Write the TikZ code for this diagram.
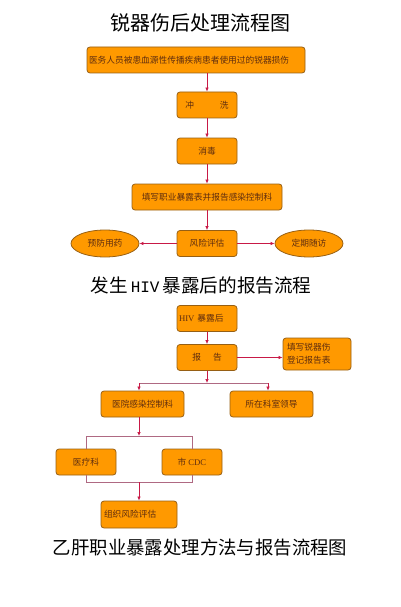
\documentclass[tikz,border=0pt]{standalone}
\usepackage{fontspec}
\setmainfont{Noto Sans CJK SC}
\newfontfamily\latinserif{Liberation Serif}
\newfontfamily\latinmono{Liberation Mono}
\usetikzlibrary{arrows.meta, shapes.geometric}
\definecolor{boxfill}{RGB}{255, 153, 0}
\definecolor{boxline}{RGB}{150, 95, 20}
\definecolor{boxtext}{RGB}{95, 45, 15}
\definecolor{arrowred}{RGB}{200, 25, 70}
\definecolor{branch}{RGB}{175, 105, 130}

\begin{document}
\begin{tikzpicture}[x=1pt, y=-1pt,
    box/.style={draw=boxline, fill=boxfill, rounded corners=3pt, line width=0.8pt,
      text=boxtext, font=\fontsize{8.7}{13}\selectfont, inner sep=2pt, minimum height=26pt},
    oval/.style={ellipse, draw=boxline, fill=boxfill, line width=0.8pt, text=boxtext,
      font=\fontsize{8.7}{13}\selectfont, inner sep=0pt, minimum width=68pt, minimum height=27pt},
    flow/.style={-{Latex[length=4pt,width=3.5pt]}, arrowred, line width=0.7pt},
    link/.style={branch, line width=0.7pt},
    title/.style={font=\fontsize{20}{22}\selectfont}]
  \useasboundingbox (0,0) rectangle (400,607);

  \node[title] (t1) at (200,23) {锐器伤后处理流程图};
  \node[box, text width=214pt, align=left] (b1) at (196,60) {医务人员被患血源性传播疾病患者使用过的锐器损伤};
  \node[box, minimum width=60pt] (b2) at (207,105) {冲\hspace{26pt}洗};
  \node[box, minimum width=60pt] (b3) at (207,151) {消毒};
  \node[box, minimum width=150pt] (b4) at (207,197) {填写职业暴露表并报告感染控制科};
  \node[box, minimum width=60pt] (b5) at (207,243.5) {风险评估};
  \node[oval] (e1) at (105,243.5) {预防用药};
  \node[oval] (e2) at (309,243.5) {定期随访};

  \draw[flow] (b2 |- b1.south) -- (b2);
  \draw[flow] (b2) -- (b3);
  \draw[flow] (b3) -- (b4);
  \draw[flow] (b4) -- (b5);
  \draw[flow] (b5) -- (e1);
  \draw[flow] (b5) -- (e2);

  \node[title, font=\fontsize{18.6}{22}\selectfont] (t2) at (201,285)
    {发生\hspace{3pt}{\latinmono\fontsize{16}{20}\selectfont HIV}\hspace{3pt}暴露后的报告流程};
  \node[box, text width=56pt, align=left] (h1) at (207,318.5) {{\latinserif HIV} 暴露后};
  \node[box, minimum width=60pt] (h2) at (207,357.5) {报\hspace{12pt}告};
  \node[box, text width=60pt, inner xsep=4pt, align=left, minimum height=32pt] (h3) at (317,354) {填写锐器伤\\登记报告表};
  \node[box, minimum width=83pt] (h4) at (142.5,404) {医院感染控制科};
  \node[box, minimum width=83pt] (h5) at (271.5,404) {所在科室领导};
  \node[box, minimum width=60pt] (h6) at (86,462) {医疗科};
  \node[box, minimum width=60pt] (h7) at (192,462) {市 {\latinserif CDC}};
  \node[box, text width=70pt, inner xsep=3pt, align=left, minimum height=27pt] (h8) at (139,514.5) {组织风险评估};

  \coordinate (j1) at (207,383);
  \coordinate (j1l) at (139,383);
  \coordinate (j1r) at (268,383);
  \coordinate (j2) at (139,436);
  \coordinate (j3) at (139,482);

  \draw[flow] (h1) -- (h2);
  \draw[flow] (h2.east) -- (h2.east -| h3.west);
  \draw[link] (j1l) -- (j1r);
  \draw[flow] (h2) -- (j1);
  \draw[flow] (j1l) -- (j1l |- h4.north);
  \draw[flow] (j1r) -- (j1r |- h5.north);
  \draw[link] (h6.north) -- (h6.north |- j2) -- (h7.north |- j2) -- (h7.north);
  \draw[flow] (j2 |- h4.south) -- (j2);
  \draw[link] (h6.south) -- (h6.south |- j3) -- (h7.south |- j3) -- (h7.south);
  \draw[flow] (j3) -- (h8);

  \node[title, font=\fontsize{18.4}{22}\selectfont] (t3) at (200,548) {乙肝职业暴露处理方法与报告流程图};
\end{tikzpicture}
\end{document}
